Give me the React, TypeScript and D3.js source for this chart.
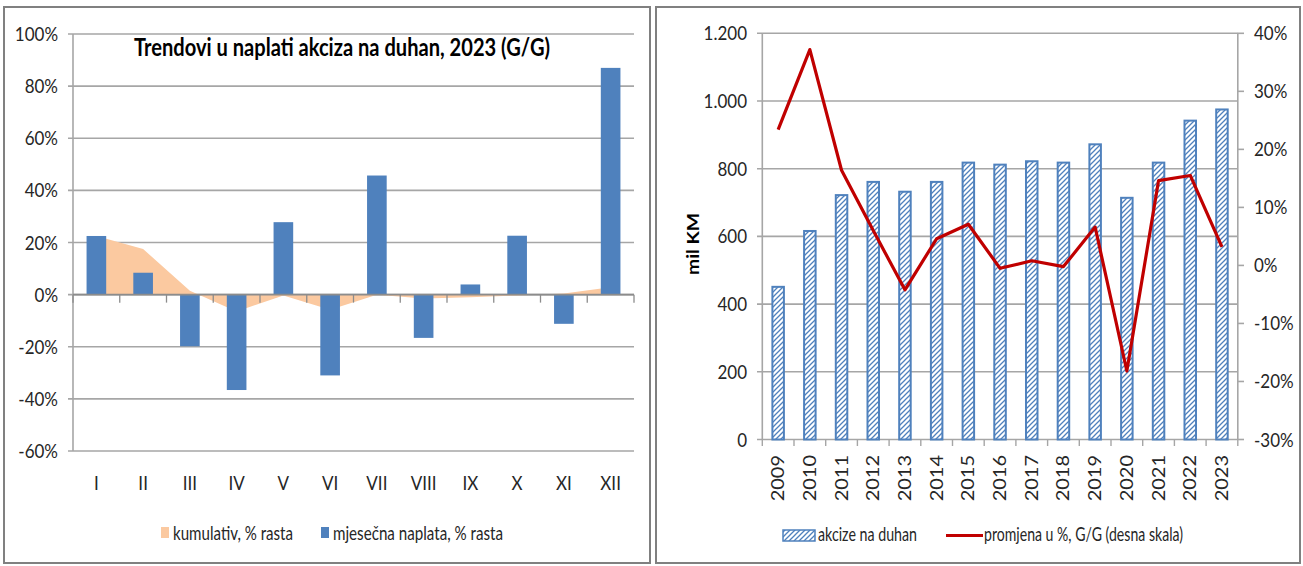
import React from "react";
import * as d3 from "d3";

// ---------- Left chart data ----------
const months = ["I", "II", "III", "IV", "V", "VI", "VII", "VIII", "IX", "X", "XI", "XII"];
const monthlyGrowth = [22.5, 8.4, -19.8, -36.6, 27.8, -31.0, 45.7, -16.6, 3.9, 22.6, -11.2, 87.0];
const cumulativeGrowth = [22.5, 17.5, 1.5, -6.5, -0.3, -5.8, 0.0, -1.5, -1.0, -0.3, 0.4, 2.8];
const leftTicks = [-60, -40, -20, 0, 20, 40, 60, 80, 100];
const leftTitle = "Trendovi u naplati akciza na duhan, 2023 (G/G)";
const leftLegend = ["kumulativ, % rasta", "mjesečna naplata, % rasta"];

// ---------- Right chart data ----------
const years = ["2009", "2010", "2011", "2012", "2013", "2014", "2015", "2016", "2017", "2018", "2019", "2020", "2021", "2022", "2023"];
const exciseValues = [451, 616, 722, 761, 732, 761, 818, 812, 822, 818, 872, 714, 818, 942, 975];
const yoyChange = [23.4, 37.2, 16.4, 6.0, -4.2, 4.6, 7.1, -0.5, 0.8, -0.2, 6.6, -18.2, 14.6, 15.5, 3.2];
const rightLeftTicks = [0, 200, 400, 600, 800, 1000, 1200];
const rightRightTicks = [-30, -20, -10, 0, 10, 20, 30, 40];
const rightLegend = ["akcize na duhan", "promjena u %, G/G (desna skala)"];
const rightAxisTitle = "mil KM";

const FONT = "Lato, 'Open Sans', sans-serif";
const SX = 0.85;
const TXT = "#262626";
const GRID = "#A6A6A6";
const BLUE = "#4F81BD";
const PEACH = "#FBC9A0";
const RED = "#C00000";

const fmtThousands = (v: number) => d3.format(",")(v).replace(/,/g, ".");

function SText(props: { x: number; y: number; anchor?: string; size?: number; weight?: any; children: any; rotate?: boolean; dy?: string }) {
  const { x, y, anchor = "start", size = 20, weight = "normal", children, rotate = false, dy = "0.35em" } = props;
  return (
    <text
      transform={`translate(${x},${y}) scale(${SX},1)${rotate ? " rotate(-90)" : ""}`}
      textAnchor={anchor}
      dy={dy}
      fontFamily={FONT}
      fontSize={size}
      fontWeight={weight}
      fill={TXT}
    >
      {children}
    </text>
  );
}

function LeftChart() {
  const x = d3.scaleBand<string>().domain(months).range([73, 634]).padding(0);
  const y = d3.scaleLinear().domain([-60, 100]).range([451, 34]);
  const bw = x.bandwidth() * 0.42;
  const cx = (m: string) => (x(m) as number) + x.bandwidth() / 2;
  const area = d3
    .area<number>()
    .x((_, i) => cx(months[i]))
    .y0(y(0))
    .y1((d) => y(d));
  const boundaries = months.map((m) => x(m) as number).concat([634]);
  return (
    <g>
      <rect x={4} y={7} width={646} height={556} fill="#fff" stroke="#808080" strokeWidth={2} />
      {leftTicks.map((t) => (
        <line key={t} x1={68} x2={634} y1={y(t)} y2={y(t)} stroke={GRID} strokeWidth={1.6} />
      ))}
      <path d={area(cumulativeGrowth) || ""} fill={PEACH} />
      {monthlyGrowth.map((v, i) => (
        <rect
          key={i}
          x={cx(months[i]) - bw / 2}
          width={bw}
          y={Math.min(y(v), y(0))}
          height={Math.abs(y(v) - y(0))}
          fill={BLUE}
        />
      ))}
      <line x1={73} x2={73} y1={34} y2={451} stroke={GRID} strokeWidth={1.6} />
      <line x1={73} x2={634} y1={y(0)} y2={y(0)} stroke="#8C8C8C" strokeWidth={1.6} />
      {boundaries.map((b, i) => (
        <line key={i} x1={b} x2={b} y1={y(0)} y2={y(0) + 8} stroke="#8C8C8C" strokeWidth={1.3} />
      ))}
      {leftTicks.map((t) => (
        <SText key={t} x={58} y={y(t)} anchor="end">{`${t}%`}</SText>
      ))}
      {months.map((m) => (
        <SText key={m} x={cx(m)} y={483} anchor="middle">{m}</SText>
      ))}
      <text x={342} y={56} textAnchor="middle" fontFamily={FONT} fontWeight="bold" fontSize={24} fill="#000" textLength={416} lengthAdjust="spacingAndGlyphs">
        {leftTitle}
      </text>
      <rect x={161} y={527} width={8} height={11} fill={PEACH} />
      <text x={173} y={540} fontFamily={FONT} fontSize={19} fill={TXT} textLength={120} lengthAdjust="spacingAndGlyphs">
        {leftLegend[0]}
      </text>
      <rect x={321} y={527} width={8} height={11} fill={BLUE} />
      <text x={333} y={540} fontFamily={FONT} fontSize={19} fill={TXT} textLength={170} lengthAdjust="spacingAndGlyphs">
        {leftLegend[1]}
      </text>
    </g>
  );
}

function RightChart() {
  const x = d3.scaleBand<string>().domain(years).range([762.3, 1237.8]).padding(0);
  const yL = d3.scaleLinear().domain([0, 1200]).range([439.5, 33.3]);
  const yR = d3.scaleLinear().domain([-30, 40]).range([439.5, 33.3]);
  const cx = (yr: string) => (x(yr) as number) + x.bandwidth() / 2;
  const line = d3
    .line<number>()
    .x((_, i) => cx(years[i]))
    .y((d) => yR(d));
  const boundaries = years.map((yr) => x(yr) as number).concat([1237.8]);
  const bw = 11.5;
  return (
    <g>
      <defs>
        <pattern id="hatch" patternUnits="userSpaceOnUse" width={5} height={5}>
          <rect width={5} height={5} fill="#fff" />
          <path d="M0,5 L5,0 M-1,1 L1,-1 M4,6 L6,4" stroke={BLUE} strokeWidth={1.3} />
        </pattern>
      </defs>
      <rect x={656} y={7} width={644} height={556} fill="#fff" stroke="#808080" strokeWidth={2} />
      {rightLeftTicks.map((t) => (
        <line key={t} x1={757} x2={1238} y1={yL(t)} y2={yL(t)} stroke={GRID} strokeWidth={1.6} />
      ))}
      {exciseValues.map((v, i) => (
        <rect
          key={i}
          x={cx(years[i]) - bw / 2}
          width={bw}
          y={yL(v)}
          height={yL(0) - yL(v)}
          fill="url(#hatch)"
          stroke={BLUE}
          strokeWidth={2}
        />
      ))}
      <line x1={762.3} x2={762.3} y1={33.3} y2={439.5} stroke={GRID} strokeWidth={1.6} />
      <line x1={1237.8} x2={1237.8} y1={33.3} y2={439.5} stroke={GRID} strokeWidth={1.6} />
      {rightRightTicks.map((t) => (
        <line key={t} x1={1237.8} x2={1244} y1={yR(t)} y2={yR(t)} stroke={GRID} strokeWidth={1.6} />
      ))}
      {boundaries.map((b, i) => (
        <line key={i} x1={b} x2={b} y1={439.5} y2={446} stroke={GRID} strokeWidth={1.4} />
      ))}
      <path d={line(yoyChange) || ""} fill="none" stroke={RED} strokeWidth={3.2} strokeLinejoin="round" />
      {rightLeftTicks.map((t) => (
        <SText key={t} x={747} y={yL(t)} anchor="end">{fmtThousands(t)}</SText>
      ))}
      {rightRightTicks.map((t) => (
        <SText key={t} x={1254} y={yR(t)} anchor="start">{`${t}%`}</SText>
      ))}
      {years.map((yr) => (
        <SText key={yr} x={cx(yr)} y={455} anchor="end" rotate>{yr}</SText>
      ))}
      <text
        transform={`translate(693,244) scale(${SX},1) rotate(-90)`}
        textAnchor="middle"
        dy="0.35em"
        fontFamily={FONT}
        fontWeight="bold"
        fontSize={20}
        fill="#000"
        textLength={62}
        lengthAdjust="spacingAndGlyphs"
      >
        {rightAxisTitle}
      </text>
      <rect x={783} y={530} width={32} height={11} fill="url(#hatch)" stroke={BLUE} strokeWidth={1.5} />
      <text x={818} y={541} fontFamily={FONT} fontSize={19} fill={TXT} textLength={99} lengthAdjust="spacingAndGlyphs">
        {rightLegend[0]}
      </text>
      <line x1={946} x2={983} y1={535.5} y2={535.5} stroke={RED} strokeWidth={3.2} />
      <text x={984} y={541} fontFamily={FONT} fontSize={19} fill={TXT} textLength={199} lengthAdjust="spacingAndGlyphs">
        {rightLegend[1]}
      </text>
    </g>
  );
}

export default function App() {
  return (
    <svg width={1303} height={566} style={{ position: "absolute", left: 0, top: 0, background: "#fff" }}>
      <rect width={1303} height={566} fill="#fff" />
      <LeftChart />
      <RightChart />
    </svg>
  );
}
